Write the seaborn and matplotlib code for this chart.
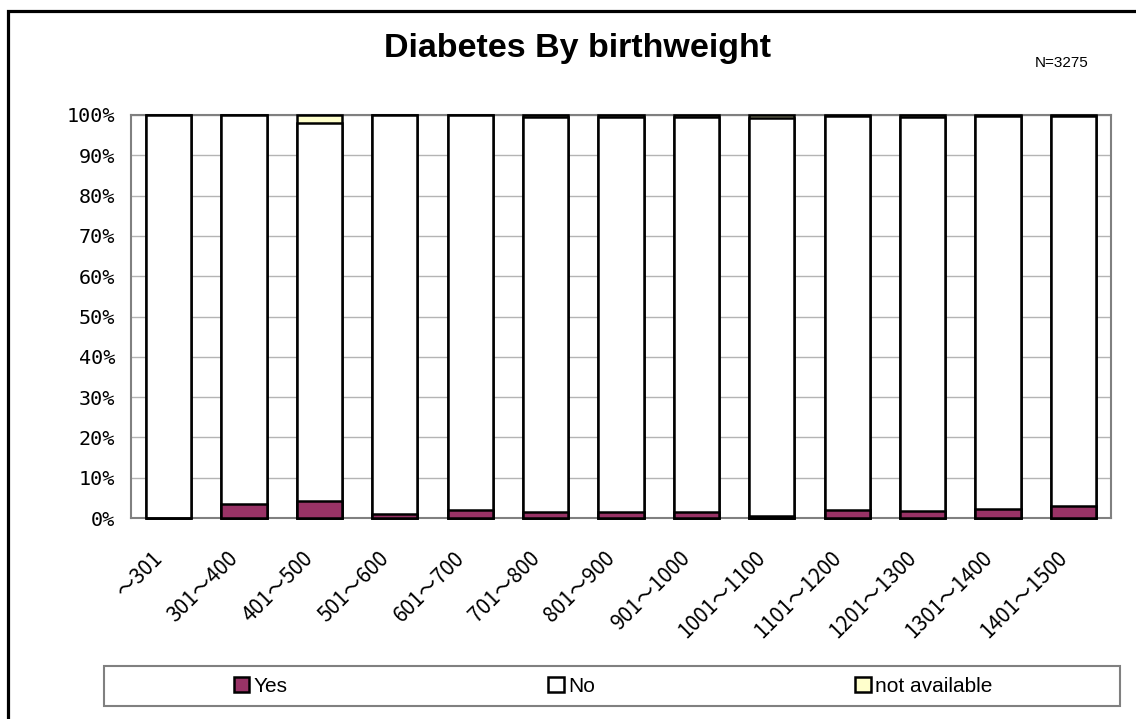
import matplotlib
matplotlib.use("Agg")
import matplotlib.pyplot as plt
import seaborn as sns
import pandas as pd
from matplotlib.patches import Rectangle, Patch
from matplotlib.transforms import ScaledTranslation
from matplotlib import font_manager

categories = ["～301", "301～400", "401～500", "501～600", "601～700", "701～800",
              "801～900", "901～1000", "1001～1100", "1101～1200", "1201～1300",
              "1301～1400", "1401～1500"]
yes_pct = [0.0, 3.4, 4.2, 0.9, 1.9, 1.4, 1.5, 1.6, 0.4, 1.9, 1.7, 2.2, 3.0]
na_pct = [0.0, 0.0, 2.0, 0.0, 0.0, 0.4, 0.4, 0.4, 0.8, 0.3, 0.6, 0.3, 0.3]
no_pct = [100.0 - y - n for y, n in zip(yes_pct, na_pct)]
series_names = ["Yes", "No", "not available"]
series_colors = ["#993366", "#FFFFFF", "#FFFFCC"]
y_ticks = list(range(0, 101, 10))
title_text = "Diabetes By birthweight"
n_text = "N=3275"

names = {f.name for f in font_manager.fontManager.ttflist}
narrow = "Liberation Sans Narrow" if "Liberation Sans Narrow" in names else "Liberation Sans"

sns.set_theme(style="white")
plt.rcParams["font.family"] = ["Liberation Sans", "DejaVu Sans"]
plt.rcParams["text.color"] = "black"
plt.rcParams["xtick.color"] = "black"
plt.rcParams["ytick.color"] = "black"

W, H = 1136, 719
fig = plt.figure(figsize=(W / 100, H / 100), dpi=100)
ax = fig.add_axes([131 / W, 1 - 518 / H, (1111 - 131) / W, (518 - 115) / H])

df = pd.DataFrame({"cat": categories, "yes": yes_pct, "no": no_pct, "na": na_pct})
df["yes_no"] = df["yes"] + df["no"]
df["total"] = df["yes_no"] + df["na"]

common = dict(x="cat", order=categories, width=0.6, edgecolor="black",
              linewidth=1.8, ax=ax, zorder=3)
sns.barplot(data=df, y="total", color=series_colors[2], saturation=1, **common)
sns.barplot(data=df, y="yes_no", color=series_colors[1], saturation=1, **common)
sns.barplot(data=df, y="yes", color=series_colors[0], saturation=1, **common)
for p in ax.patches:
    p.set_clip_on(False)

ax.set_xlim(-0.5, len(categories) - 0.5)
ax.set_ylim(0, 100)
ax.set_xlabel("")
ax.set_ylabel("")
ax.set_yticks(y_ticks)
ax.set_yticklabels([f"{v}%" for v in y_ticks], family="DejaVu Sans Mono", fontsize=14.5)
ax.yaxis.grid(True, color="#b4b4b4", linewidth=1.0, zorder=0)
ax.set_axisbelow(True)
for s in ax.spines.values():
    s.set_visible(True)
    s.set_color("#808080")
    s.set_linewidth(1.5)
ax.tick_params(axis="y", direction="in", length=6, width=1.2, color="#808080",
               labelcolor="black", pad=11.5)

ax.set_xticks(range(len(categories)))
ax.set_xticks([i + 0.5 for i in range(-1, len(categories))], minor=True)
ax.tick_params(axis="x", which="major", length=0, pad=21, labelcolor="black")
ax.tick_params(axis="x", which="minor", direction="in", length=5, width=1.2, color="#808080")
ax.set_xticklabels(categories, rotation=45, ha="right", va="top", rotation_mode="anchor",
                   family=["Noto Sans CJK JP", "DejaVu Sans"], fontsize=15)
for lab in ax.get_xticklabels():
    lab.set_transform(lab.get_transform() + ScaledTranslation(-17 / 100, 0, fig.dpi_scale_trans))

fig.text(578 / W, 1 - 48 / H, title_text, ha="center", va="center", color="black",
         fontsize=24.5, fontweight="bold", family="Liberation Sans")
fig.text(1088 / W, 1 - 63 / H, n_text, ha="right", va="center", fontsize=11,
         family=narrow, color="black")

# legend frame
fig.patches.append(Rectangle((104 / W, 1 - 706 / H), (1120 - 104) / W, 40 / H,
                             transform=fig.transFigure, facecolor="white",
                             edgecolor="#808080", linewidth=1.5))
handles = [Patch(facecolor=c, edgecolor="black", linewidth=1.8) for c in series_colors]
leg = fig.legend(handles, series_names, loc="center", bbox_to_anchor=(613 / W, 1 - 686 / H),
                 ncol=3, frameon=False, handlelength=0.75, handleheight=0.75,
                 handletextpad=0.2, columnspacing=12.5, prop={"family": narrow, "size": 15})
for t in leg.get_texts():
    t.set_color("black")

# outer chart border
fig.patches.append(Rectangle((8 / W, -0.05), 1.1, 1 - 11 / H + 0.05,
                             transform=fig.transFigure, facecolor="none",
                             edgecolor="black", linewidth=2.3, clip_on=False))

fig.savefig("out.png", dpi=100, facecolor="white")
